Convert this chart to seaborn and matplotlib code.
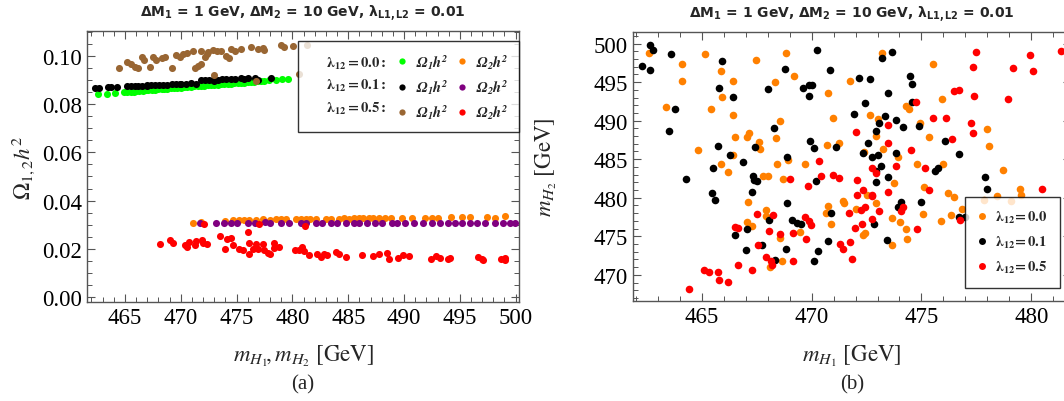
import matplotlib
matplotlib.use("Agg")
import matplotlib.pyplot as plt
import seaborn as sns
from matplotlib.lines import Line2D
from matplotlib.ticker import MultipleLocator, FormatStrFormatter

# ---------------- Panel (a) data : relic density vs mass ----------------
a_green_x = [462.6, 463.4, 464.1, 464.9, 465.2, 465.5, 465.8, 466.0, 466.3, 466.6, 466.9, 467.1,
             467.4, 467.7, 468.0, 468.3, 468.5, 468.8, 469.1, 469.4, 469.7, 470.0, 470.3, 470.6,
             470.9, 471.2, 471.5, 471.8, 472.1, 472.4, 472.7, 473.0, 473.3, 473.6, 473.9, 474.2,
             474.5, 474.8, 475.1, 475.4, 475.7, 476.0, 476.3, 476.6, 476.9, 477.2, 477.5, 477.9,
             478.5, 479.1, 479.6]
a_green_y = [0.0841, 0.0844, 0.0846, 0.0849, 0.0850, 0.0851, 0.0852, 0.0853, 0.0855, 0.0856, 0.0857, 0.0858,
             0.0859, 0.0860, 0.0862, 0.0863, 0.0864, 0.0865, 0.0866, 0.0867, 0.0868, 0.0869, 0.0870, 0.0871,
             0.0873, 0.0874, 0.0875, 0.0876, 0.0877, 0.0878, 0.0879, 0.0880, 0.0881, 0.0883, 0.0884, 0.0885,
             0.0886, 0.0887, 0.0888, 0.0889, 0.0890, 0.0892, 0.0893, 0.0894, 0.0895, 0.0896, 0.0897, 0.0899,
             0.0901, 0.0903, 0.0905]

a_black_x = [462.34, 462.69, 463.46, 463.76, 464.33, 465.2, 465.54, 465.90, 466.20, 466.55, 466.94, 467.0,
             467.33, 467.68, 468.04, 468.43, 468.81, 469.23, 469.61, 469.9, 470.06, 470.51, 470.89, 471.40,
             471.78, 472.14, 472.50, 472.88, 473.0, 473.33, 473.68, 474.07, 474.52, 474.87, 475.41, 475.7,
             476.00, 476.65, 476.89, 478.08]
a_black_y = [0.0869, 0.0869, 0.0871, 0.0871, 0.0871, 0.0874, 0.0875, 0.0877, 0.0875, 0.0877, 0.0878, 0.0876,
             0.0878, 0.0880, 0.0880, 0.0881, 0.0881, 0.0882, 0.0884, 0.0882, 0.0884, 0.0885, 0.0887, 0.0885,
             0.0899, 0.0899, 0.0900, 0.0900, 0.0898, 0.0902, 0.0903, 0.0905, 0.0905, 0.0906, 0.0907, 0.0905,
             0.0909, 0.0909, 0.0899, 0.0907]

a_brown_x = [464.44, 465.16, 465.51, 465.90, 466.20, 466.49, 466.73, 467.27, 467.53, 467.74, 468.34, 468.57,
             469.23, 469.58, 469.94, 470.24, 470.53, 471.13, 471.84, 472.44, 472.91, 473.21, 473.62, 474.07,
             474.34, 471.31, 471.54, 471.78, 472.14, 472.38, 474.52, 474.87, 475.41, 476.30, 476.89, 477.37,
             477.49, 478.97, 479.27, 480.01, 481.35, 480.55, 473.0, 476.74]
a_brown_y = [0.0951, 0.0976, 0.0968, 0.0954, 0.0949, 0.0996, 0.0982, 0.0954, 0.0996, 0.0982, 0.0990, 0.0998,
             0.0951, 0.1004, 0.0996, 0.1010, 0.1014, 0.1021, 0.1023, 0.1016, 0.1026, 0.1021, 0.1021, 0.1001,
             0.0992, 0.0950, 0.0957, 0.0968, 0.0996, 0.1010, 0.1030, 0.1023, 0.1031, 0.1037, 0.1030, 0.1034,
             0.1026, 0.1044, 0.1037, 0.1040, 0.1047, 0.0925, 0.0920, 0.0895]

a_orange_x = [471.10, 471.84, 473.92, 474.66, 475.26, 476.15, 477.34, 478.53, 479.42, 480.31, 481.20, 482.09,
              482.98, 484.17, 485.06, 485.95, 486.84, 487.74, 488.33, 489.82, 490.71, 491.90, 493.08, 495.16,
              495.91, 497.39, 498.13, 499.03, 475.7, 476.7, 478.0, 479.0, 480.8, 481.6, 483.5, 484.6,
              485.5, 486.3, 487.2, 488.8, 492.5, 494.2]
a_orange_y = [0.0308, 0.0311, 0.0315, 0.0318, 0.0321, 0.0321, 0.0322, 0.0322, 0.0324, 0.0324, 0.0324, 0.0325,
              0.0325, 0.0325, 0.0325, 0.0327, 0.0327, 0.0327, 0.0327, 0.0328, 0.0328, 0.0329, 0.0329, 0.0332,
              0.0332, 0.0332, 0.0329, 0.0335, 0.0319, 0.0320, 0.0321, 0.0323, 0.0323, 0.0325, 0.0324, 0.0326,
              0.0326, 0.0326, 0.0328, 0.0327, 0.0328, 0.0330]

a_purple_x = [471.75, 473.18, 473.83, 474.46, 475.02, 476.00, 476.68, 477.58, 478.02, 478.97, 479.71, 480.75,
              481.20, 482.09, 482.69, 483.43, 484.02, 484.77, 485.51, 485.95, 486.70, 487.44, 488.03, 488.92,
              489.37, 490.11, 490.86, 491.66, 492.49, 493.23, 493.98, 494.57, 495.16, 495.91, 496.50, 497.24,
              498.13, 498.88, 499.47, 499.92]
a_purple_y = [0.0306, 0.0305, 0.0305, 0.0307, 0.0305, 0.0306, 0.0305, 0.0312, 0.0307, 0.0307, 0.0306, 0.0305,
              0.0307, 0.0306, 0.0306, 0.0306, 0.0307, 0.0306, 0.0306, 0.0307, 0.0306, 0.0307, 0.0307, 0.0306,
              0.0306, 0.0307, 0.0307, 0.0306, 0.0307, 0.0306, 0.0307, 0.0307, 0.0307, 0.0308, 0.0307, 0.0307,
              0.0307, 0.0308, 0.0307, 0.0308]

a_red_x = [468.13, 469.02, 469.32, 470.36, 470.56, 470.74, 471.25, 471.40, 471.93, 471.99, 472.35, 473.48,
           473.92, 474.13, 474.52, 474.66, 475.26, 475.56, 476.00, 476.15, 476.15, 476.45, 476.74, 476.89,
           477.34, 477.49, 477.78, 477.99, 478.38, 478.38, 478.82, 480.25, 480.61, 480.90, 481.05, 481.50,
           482.24, 482.54, 482.83, 483.13, 483.87, 484.17, 484.77, 486.25, 487.20, 487.74, 488.48, 488.69,
           489.46, 489.88, 490.41, 492.43, 492.85, 493.26, 493.98, 494.12, 496.59, 496.95, 497.09, 498.73,
           499.03, 499.09, 472.05, 477.04, 481.14]
a_red_y = [0.0221, 0.0238, 0.0225, 0.0214, 0.0207, 0.0228, 0.0214, 0.0232, 0.0238, 0.0224, 0.0218, 0.0252,
           0.0200, 0.0241, 0.0243, 0.0214, 0.0200, 0.0196, 0.0270, 0.0180, 0.0224, 0.0200, 0.0221, 0.0200,
           0.0221, 0.0194, 0.0183, 0.0177, 0.0224, 0.0205, 0.0207, 0.0196, 0.0194, 0.0207, 0.0191, 0.0173,
           0.0180, 0.0166, 0.0180, 0.0173, 0.0187, 0.0180, 0.0166, 0.0176, 0.0169, 0.0180, 0.0183, 0.0159,
           0.0162, 0.0173, 0.0169, 0.0159, 0.0170, 0.0162, 0.0159, 0.0162, 0.0166, 0.0159, 0.0155, 0.0159,
           0.0163, 0.0152, 0.0301, 0.0304, 0.0293]

# ---------------- Panel (b) data : m_H2 vs m_H1 ----------------
b_orange_x = [462.62, 464.11, 464.11, 465.14, 467.47, 468.86, 469.18, 465.86, 466.41, 465.94, 463.36, 465.41,
              466.44, 466.53, 467.08, 467.15, 467.59, 467.64, 464.83, 466.45, 468.36, 468.55, 468.38, 470.77,
              470.98, 471.26, 470.70, 471.73, 468.45, 468.91, 469.70, 465.86, 466.21,
              473.21, 475.53, 475.94, 474.29, 474.42, 472.68, 473.00, 472.95, 474.92, 475.33, 473.27, 473.94,
              478.00, 478.09, 472.38, 474.80, 475.97, 478.73,
              467.12, 467.05, 467.30, 467.80, 468.03, 467.92, 467.95, 468.11, 468.68, 468.56, 468.65, 469.47,
              470.65, 470.77, 470.89, 471.41, 471.47,
              475.11, 472.00, 472.53, 472.95, 473.76, 473.64, 474.02, 474.29, 474.32, 473.67, 472.32, 472.45,
              475.09, 476.21, 476.48, 475.91, 476.32, 476.86, 477.83, 478.45, 479.06, 479.47, 479.52]
b_orange_y = [498.83, 497.35, 495.18, 498.70, 497.92, 498.78, 495.83, 496.44, 495.18, 493.01, 491.80, 491.49,
              490.76, 487.85, 487.93, 488.41, 487.28, 486.33, 486.20, 485.59, 494.97, 489.97, 487.72, 493.58,
              490.28, 487.07, 486.81, 495.18, 484.37, 484.94, 484.33, 484.33, 483.38,
              498.83, 497.31, 492.75, 491.88, 491.54, 490.76, 490.19, 488.06, 489.67, 487.93, 486.33, 485.24,
              488.93, 486.68, 485.98, 484.33, 484.33, 483.55,
              479.38, 476.87, 476.35, 482.81, 482.81, 478.39, 477.65, 471.05, 482.42, 474.74, 471.74, 475.56,
              477.99, 478.99, 476.65, 479.51, 479.30,
              481.42, 478.60, 480.34, 479.25, 481.86, 477.34, 476.87, 476.00, 474.70, 473.83, 475.13, 475.39,
              477.86, 480.56, 480.03, 477.00, 477.78, 478.60, 479.69, 480.25, 479.51, 481.12, 480.34]

b_black_x = [462.30, 462.65, 462.80, 462.65, 463.59, 463.80, 463.50, 465.77, 465.95, 466.41, 465.74, 466.29,
             466.88, 467.41, 468.03, 468.29, 468.80, 468.88, 469.61, 469.89, 470.03, 469.88, 470.23, 470.85,
             469.92, 470.12, 471.11, 465.53,
             473.64, 473.21, 472.14, 472.65, 474.50, 474.58, 473.48, 472.45, 474.55, 471.92, 473.33, 473.82,
             473.08, 474.14, 474.88, 472.95, 472.59, 472.36, 472.77, 473.03, 473.86, 473.17, 476.09, 476.70,
             475.74, 475.62, 472.95,
             464.29, 465.48, 465.61, 466.50, 467.06, 467.03, 467.30, 467.36, 467.39, 467.53, 467.73, 468.05,
             468.33, 468.86, 468.89, 469.11, 469.35, 469.53, 470.21, 470.29, 470.12, 470.74, 470.88,
             472.95, 473.48, 474.05, 473.94, 472.83, 473.45, 474.97, 477.89, 477.99, 476.70, 476.97]
b_black_y = [497.09, 499.78, 499.18, 496.53, 498.70, 491.54, 488.67, 494.27, 497.79, 493.10, 486.68, 485.59,
             484.68, 486.59, 494.10, 489.02, 496.70, 485.24, 494.18, 494.57, 494.66, 493.14, 499.13, 496.57,
             487.41, 486.41, 486.55, 483.81,
             498.91, 498.13, 495.57, 495.44, 495.79, 494.79, 493.62, 492.27, 492.40, 490.84, 490.63, 490.10,
             489.71, 489.15, 489.24, 488.67, 487.07, 485.76, 485.29, 485.55, 485.76, 484.16, 487.41, 485.68,
             483.81, 483.51, 483.51,
             482.42, 480.56, 479.73, 475.22, 475.95, 473.26, 480.73, 482.77, 482.34, 482.20, 473.83, 477.08,
             471.92, 473.31, 479.30, 477.08, 476.78, 476.56, 482.20, 473.09, 471.79, 474.39, 477.99,
             482.07, 482.64, 479.38, 478.86, 476.56, 474.52, 479.38, 482.72, 481.12, 477.56, 477.52]

b_red_x = [470.36,
           477.48, 479.92, 481.36, 477.35, 479.14, 480.09, 476.47, 476.71, 477.39, 478.94, 474.76, 475.52,
           476.11, 477.24, 477.36, 473.48, 472.00, 476.39, 473.48, 474.53, 473.82, 472.76, 475.15, 472.95,
           464.44, 465.11, 465.35, 465.74, 465.77, 466.21, 466.52, 466.64, 466.67, 467.27, 467.53, 467.58,
           467.91, 468.08, 468.14, 468.21, 468.23, 468.56, 469.00, 469.14, 469.17, 469.68, 469.77, 469.86,
           469.88, 469.98, 470.41, 470.98, 471.26, 471.30, 471.44, 471.71, 471.74,
           472.08, 472.35, 472.09, 472.76, 472.73, 473.05, 473.48, 474.17, 474.05, 475.35, 472.23, 472.42,
           472.76, 472.30, 471.98, 471.85, 474.79, 476.74, 480.48]
b_red_y = [484.72,
           498.91, 498.57, 499.00, 496.96, 496.79, 496.44, 493.88, 494.01, 493.14, 492.75, 492.36, 490.28,
           490.28, 489.71, 488.37, 489.37, 488.58, 487.63, 487.11, 486.20, 484.16, 483.85, 483.85, 483.20,
           468.10, 470.57, 470.36, 470.36, 469.27, 469.05, 476.22, 476.04, 471.27, 470.66, 477.95, 473.83,
           472.27, 475.65, 471.79, 471.31, 477.78, 475.35, 482.38, 475.43, 471.79, 477.52, 474.61, 481.47,
           476.99, 476.43, 482.81, 482.99, 482.60, 473.97, 473.31, 478.08, 474.26,
           482.29, 481.03, 480.38, 480.38, 480.16, 478.29, 480.77, 478.82, 478.29, 481.00, 478.38, 478.82,
           477.30, 476.65, 476.13, 472.08, 475.91, 477.08, 481.08]

lambda_labels = ["0.0", "0.1", "0.5"]

# colours (Mathematica named colours)
C_GREEN = "#00ff00"
C_ORANGE = "#ff8000"
C_BLACK = "#000000"
C_PURPLE = "#800080"
C_BROWN = "#996633"
C_RED = "#ff0000"

sns.set_style("ticks")
plt.rcParams['font.family'] = ['Liberation Serif', 'DejaVu Serif']
plt.rcParams['mathtext.fontset'] = 'stix'

W, H = 1064, 402
fig = plt.figure(figsize=(W / 100, H / 100), dpi=100)
axA = fig.add_axes([87 / W, (H - 303) / H, 432 / W, 271 / H])
axB = fig.add_axes([633 / W, (H - 302) / H, 438 / W, 269 / H])

sA = 26
for xs, ys, c in [(a_green_x, a_green_y, C_GREEN), (a_black_x, a_black_y, C_BLACK),
                  (a_brown_x, a_brown_y, C_BROWN), (a_orange_x, a_orange_y, C_ORANGE),
                  (a_purple_x, a_purple_y, C_PURPLE), (a_red_x, a_red_y, C_RED)]:
    sns.scatterplot(x=xs, y=ys, color=c, s=sA, linewidth=0, ax=axA, legend=False, zorder=3)

sB = 30
for xs, ys, c in [(b_orange_x, b_orange_y, C_ORANGE), (b_black_x, b_black_y, C_BLACK),
                  (b_red_x, b_red_y, C_RED)]:
    sns.scatterplot(x=xs, y=ys, color=c, s=sB, linewidth=0, ax=axB, legend=False, zorder=3)

axA.set_xlim(461.6, 500.3)
axA.set_ylim(-0.0021, 0.1104)
axA.xaxis.set_major_locator(MultipleLocator(5))
axA.xaxis.set_minor_locator(MultipleLocator(1))
axA.yaxis.set_major_locator(MultipleLocator(0.02))
axA.yaxis.set_minor_locator(MultipleLocator(0.005))
axA.yaxis.set_major_formatter(FormatStrFormatter('%.2f'))

axB.set_xlim(461.88, 481.8)
axB.set_ylim(466.6, 501.5)
axB.xaxis.set_major_locator(MultipleLocator(5))
axB.xaxis.set_minor_locator(MultipleLocator(1))
axB.yaxis.set_major_locator(MultipleLocator(5))
axB.yaxis.set_minor_locator(MultipleLocator(1))

title = ("ΔM$_{\\mathbf{1}}$ = 1 GeV, ΔM$_{\\mathbf{2}}$ = 10 GeV, "
         "λ$_{\\mathbf{L1,L2}}$ = 0.01")
for ax in (axA, axB):
    for sp in ax.spines.values():
        sp.set_color("#555555")
        sp.set_linewidth(1.0)
    ax.tick_params(which='both', direction='in', top=True, right=True,
                   colors="#555555", labelcolor="black", labelsize=16.5)
    ax.tick_params(which='major', length=6, width=0.8)
    ax.tick_params(which='minor', length=3.5, width=0.7)
    ax.set_title(title, fontsize=10, fontweight='bold', family='DejaVu Sans',
                 math_fontfamily='dejavusans', pad=11)

axA.set_xlabel(r"$m_{H_1}\!,m_{H_2}\ [\mathrm{GeV}]$", fontsize=16.5)
axA.set_ylabel(r"$\Omega_{1,2}h^2$", fontsize=16.5)
axA.xaxis.set_label_coords(0.5, -0.15)
axA.yaxis.set_label_coords(-0.115, 0.5)

axB.set_xlabel(r"$m_{H_1}\ [\mathrm{GeV}]$", fontsize=16.5)
axB.set_ylabel(r"$m_{H_2}\ [\mathrm{GeV}]$", fontsize=16.5)
axB.xaxis.set_label_coords(0.5, -0.155)
axB.yaxis.set_label_coords(-0.168, 0.5)

# legend (a): three columns
def dot(c, ms):
    return Line2D([], [], linestyle='none', marker='o', markersize=ms, color=c, markeredgewidth=0)

blank = Line2D([], [], linestyle='none')
hA = [blank, blank, blank,
      dot(C_GREEN, 4.5), dot(C_BLACK, 4.5), dot(C_BROWN, 4.5),
      dot(C_ORANGE, 4.5), dot(C_PURPLE, 4.5), dot(C_RED, 4.5)]
lA = [r"$\mathbf{\lambda_{12} = %s:}$" % v for v in lambda_labels] + \
     [r"$\mathbfit{\Omega_1 h^2}$"] * 3 + [r"$\mathbfit{\Omega_2 h^2}$"] * 3
legA = axA.legend(hA, lA, ncol=3, loc='upper right', bbox_to_anchor=(1.0, 0.963),
                  borderaxespad=0, fontsize=10.5, frameon=True, fancybox=False,
                  handlelength=0.6, handletextpad=0.6, columnspacing=0.7,
                  labelspacing=0.45, borderpad=0.75)
legA.get_frame().set_edgecolor("black")
legA.get_frame().set_linewidth(1.0)
legA.set_zorder(5)

hB = [dot(C_ORANGE, 5), dot(C_BLACK, 5), dot(C_RED, 5)]
lB = [r"$\mathbf{\lambda_{12}\!= %s}$" % v for v in lambda_labels]
legB = axB.legend(hB, lB, loc='lower right', bbox_to_anchor=(0.975, 0.05),
                  borderaxespad=0, fontsize=10.5, frameon=True, fancybox=False,
                  handlelength=0.6, handletextpad=0.6, labelspacing=0.6, borderpad=0.85)
legB.get_frame().set_edgecolor("black")
legB.get_frame().set_linewidth(1.0)
legB.set_zorder(5)

fig.text(303 / W, 1 - 385 / H, "(a)", ha='center', va='center', fontsize=15)
fig.text(852 / W, 1 - 385 / H, "(b)", ha='center', va='center', fontsize=15)

fig.savefig("out.png", dpi=100, facecolor='white')
